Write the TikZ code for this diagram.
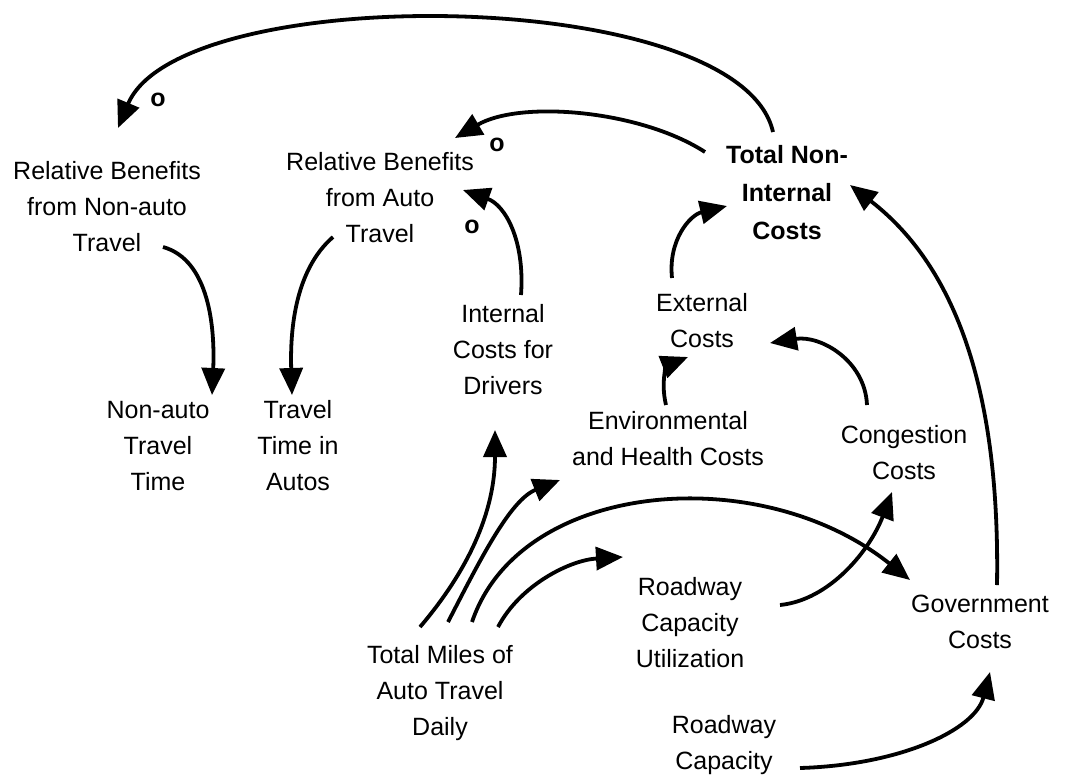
\documentclass[tikz,border=0pt]{standalone}
\usepackage{fontspec}
\setmainfont{Liberation Sans}
\usetikzlibrary{arrows.meta,calc}
\begin{document}
\begin{tikzpicture}[x=1pt,y=-1pt,
  lbl/.style={align=center,inner sep=0pt,font=\fontsize{25}{36}\selectfont},
  sgn/.style={inner sep=0pt,font=\fontsize{25}{30}\selectfont\bfseries},
  lnk/.style={line width=3.8pt,-{Triangle[length=27pt,width=23pt]}}]
\useasboundingbox (0,0) rectangle (1070,777);
\node[lbl] (rbna) at (107,207) {Relative Benefits\\from Non-auto\\Travel};
\node[lbl] (rba) at (380,198) {Relative Benefits\\from Auto\\Travel};
\node[lbl,font=\fontsize{25}{38}\selectfont\bfseries] (tnic) at (787,193) {Total Non-\\Internal\\Costs};
\node[lbl] (icd) at (503,350) {Internal\\Costs for\\Drivers};
\node[lbl] (ec) at (702,321) {External\\Costs};
\node[lbl] (natt) at (158,446) {Non-auto\\Travel\\Time};
\node[lbl] (tta) at (298,446) {Travel\\Time in\\Autos};
\node[lbl] (ehc) at (668,439) {Environmental\\and Health Costs};
\node[lbl] (cc) at (904,453) {Congestion\\Costs};
\node[lbl] (rcu) at (690,623) {Roadway\\Capacity\\Utilization};
\node[lbl] (gc) at (980,622) {Government\\Costs};
\node[lbl] (tmat) at (440,693) {Total Miles of\\Auto Travel\\Daily};
\node[lbl] (rc) at (724,745) {Roadway\\Capacity};
\node[sgn] (o1) at (158,100) {o};
\node[sgn] (o2) at (497,145) {o};
\node[sgn] (o3) at (472,227) {o};
\draw[lnk] ($(tnic)+(-14,-61)$) .. controls +(-33,-147) and +(62,-148) .. ($(rbna)+(11,-79)$);
\draw[lnk] ($(tnic)+(-82,-41)$) .. controls +(-65,-42) and +(65,-38) .. ($(rba)+(75,-60)$);
\draw[lnk] ($(icd)+(18,-55)$) .. controls +(4,-55) and +(42,15) .. ($(rba)+(83,-8)$);
\draw[lnk] ($(ec)+(-30,-43)$) .. controls +(-4,-38) and +(-37,9) .. ($(tnic)+(-60,13)$);
\draw[lnk] ($(gc)+(17,-37)$) .. controls +(3,-185) and +(110,85) .. ($(tnic)+(63,-8)$);
\draw[lnk] ($(rbna)+(56,40)$) .. controls +(47,13) and +(3,-65) .. ($(natt)+(54,-51)$);
\draw[lnk] ($(rba)+(-47,39)$) .. controls +(-38,33) and +(-2,-65) .. ($(tta)+(-6,-51)$);
\draw[lnk] ($(tmat)+(-20,-66)$) .. controls +(40,-47) and +(0,90) .. ($(icd)+(-8,80)$);
\draw[lnk] ($(tmat)+(8,-71)$) .. controls +(32,-62) and +(-50,20) .. ($(ehc)+(-108,41)$);
\draw[lnk] ($(tmat)+(32,-71)$) .. controls +(48,-142) and +(-150,-120) .. ($(gc)+(-70,-42)$);
\draw[lnk] ($(tmat)+(58,-66)$) .. controls +(22,-42) and +(-53,3) .. ($(rcu)+(-67,-66)$);
\draw[lnk] ($(rcu)+(90,-18)$) .. controls +(50,-5) and +(-22,58) .. ($(cc)+(-12,39)$);
\draw[lnk] ($(ehc)+(-2,-34)$) .. controls +(-6,-25) and +(-20,8) .. ($(ec)+(-14,36)$);
\draw[lnk] ($(cc)+(-37,-48)$) .. controls +(-2,-45) and +(50,-8) .. ($(ec)+(68,22)$);
\draw[lnk] ($(rc)+(76,23)$) .. controls +(100,-3) and +(-15,58) .. ($(gc)+(10,50)$);
\end{tikzpicture}
\end{document}
